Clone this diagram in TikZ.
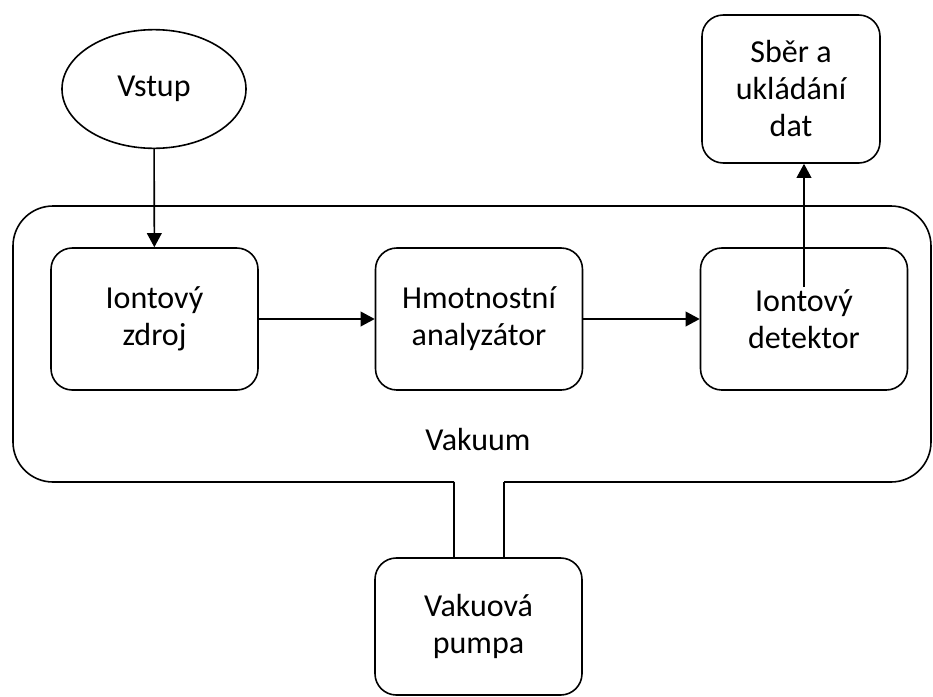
\documentclass[tikz,border=0pt]{standalone}
\usepackage{fontspec}
\setmainfont{Carlito}
\usetikzlibrary{shapes.geometric,arrows.meta}

\begin{document}
\begin{tikzpicture}[
x=0.75pt,
y=-0.75pt,
line width=1.2pt,
font=\fontsize{24}{27.75}\selectfont,
blok/.style={draw,rounded corners=16pt,align=center,inner sep=0pt,minimum width=155.25pt,minimum height=106.5pt},
sipka/.style={-{Triangle[length=10.5pt,width=11pt]}}
]

\useasboundingbox
(0,0)
rectangle
(933,697);

% Vstup
\node[draw,ellipse,inner sep=0pt,minimum width=138pt,minimum height=89pt] (vstup) at (154,89)
{Vstup};

% Vakuova komora
\draw[rounded corners=30pt]
(454,482)
--
(13,482)
--
(13,206)
--
(931,206)
--
(931,482)
--
(504,482);

\node (vakuum) at (478,440)
{Vakuum};

\node[blok] (zdroj) at (154.5,319)
{Iontový\\zdroj};

\node[blok] (analyzator) at (479,319)
{Hmotnostní\\analyzátor};

\node[blok] (detektor) at (804,319)
{Iontový\\detektor};

% Data
\node[blok,minimum width=133.5pt,minimum height=111pt] (sber) at (791,89)
{Sběr a\\ukládání\\dat};

% Pumpa
\node[blok,minimum height=102.75pt] (pumpa) at (478.5,626.5)
{Vakuová\\pumpa};

\coordinate (trubkaL) at (454,482);
\coordinate (trubkaP) at (504,482);
\coordinate (detvystup) at (804,287);

\draw
(trubkaL)
--
(trubkaL |- pumpa.north);

\draw
(trubkaP)
--
(trubkaP |- pumpa.north);

% Sipky
\draw[sipka]
(vstup)
--
(zdroj);

\draw[sipka]
(zdroj)
--
(analyzator);

\draw[sipka]
(analyzator)
--
(detektor);

\draw[sipka]
(detvystup)
--
(detvystup |- sber.south);

\end{tikzpicture}
\end{document}
